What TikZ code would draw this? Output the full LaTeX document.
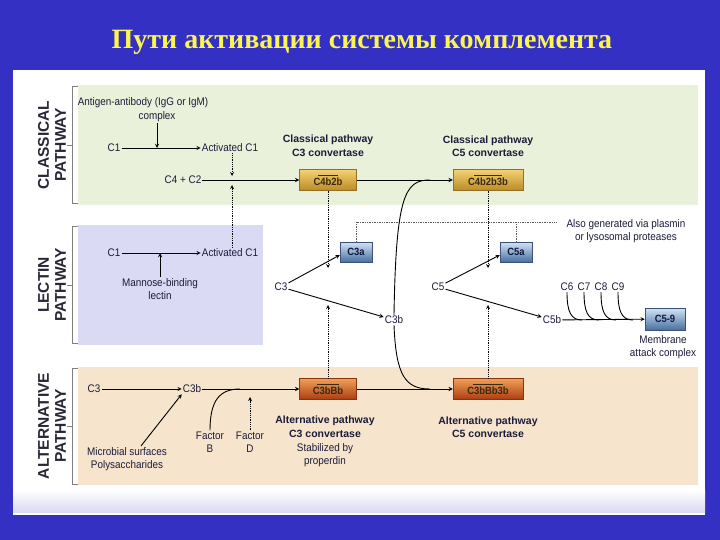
\documentclass[tikz,border=0pt]{standalone}
\usepackage{fontspec}
\setmainfont{Liberation Serif}
\newfontfamily\narrowsf[FakeStretch=0.9]{Liberation Sans}
\newfontfamily\plainsf{Liberation Sans}
\definecolor{slideblue}{RGB}{52,48,196}
\definecolor{titleyellow}{RGB}{250,245,80}
\definecolor{inkc}{RGB}{28,28,58}
\definecolor{classgreen}{RGB}{234,241,218}
\definecolor{lectinlav}{RGB}{218,218,244}
\definecolor{altpeach}{RGB}{247,228,204}
% activated complex: short bar over the name
\newcommand\convbar[1]{\setbox0\hbox{#1}\rlap{\hspace{0.15\wd0}\raisebox{\dimexpr\ht0+2pt\relax}{\rule{0.7\wd0}{0.7pt}}}\box0}
\tikzset{
  lbl/.style={font=\narrowsf\fontsize{11}{13.5}\selectfont, text=inkc, align=center, inner sep=1pt},
  blbl/.style={lbl, font=\plainsf\bfseries\fontsize{10.5}{13.5}\selectfont},
  goldbox/.style={draw={rgb,255:red,150;green,110;blue,40}, top color={rgb,255:red,243;green,210;blue,115},
    bottom color={rgb,255:red,188;green,138;blue,38}, minimum width=57pt, minimum height=21pt,
    font=\narrowsf\bfseries\fontsize{10.5}{12}\selectfont, text={rgb,255:red,60;green,40;blue,10}, inner sep=1pt},
  redbox/.style={goldbox, draw={rgb,255:red,140;green,50;blue,20}, top color={rgb,255:red,240;green,160;blue,85},
    bottom color={rgb,255:red,172;green,60;blue,20}},
  bluebox/.style={goldbox, draw={rgb,255:red,60;green,80;blue,120}, top color={rgb,255:red,210;green,228;blue,244},
    bottom color={rgb,255:red,72;green,112;blue,160}, minimum width=32pt, minimum height=20pt,
    text={rgb,255:red,15;green,25;blue,70}},
  arr/.style={->, line width=0.9pt, draw=black},
  dotarr/.style={->, densely dotted, line width=0.8pt, draw=black},
  dotline/.style={densely dotted, line width=0.7pt, draw={rgb,255:red,90;green,90;blue,90}},
  side/.style={font=\plainsf\bfseries\fontsize{15.5}{17}\selectfont, text={rgb,255:red,40;green,40;blue,55}, align=center, rotate=90},
  brk/.style={line width=0.7pt, draw=gray}
}
\begin{document}
\begin{tikzpicture}[x=1pt,y=-1pt,>=stealth]
% slide
\fill[slideblue] (0,0) rectangle (720,540);
\useasboundingbox (0,0) rectangle (720,540);
\node (title) at (362,42) {\fontsize{28}{32}\selectfont\bfseries\color{titleyellow}Пути активации системы комплемента};
\fill[white] (13,70) rectangle (705,515);
\shade[top color=white, bottom color=lectinlav] (13,490) rectangle (705,512);
% bands
\fill[classgreen] (78,85) rectangle (698,205);
\fill[lectinlav] (78,225) rectangle (263,345);
\fill[altpeach] (78,367) rectangle (698,485);
\draw[brk] (78,86) -- (72,86) -- (72,203) -- (78,203) (72,145) -- (67,145);
\draw[brk] (78,226) -- (72,226) -- (72,343) -- (78,343) (72,285) -- (67,285);
\draw[brk] (78,368) -- (72,368) -- (72,484) -- (78,484) (72,426) -- (67,426);
\node[side] (lclass) at (52,145) {CLASSICAL\\PATHWAY};
\node[side] (llect) at (52,285) {LECTIN\\PATHWAY};
\node[side] (lalt) at (52,426) {ALTERNATIVE\\PATHWAY};

% classical pathway
\node[lbl] (agab) at (143,103) {Antigen-antibody (IgG or IgM)};
\node[lbl] (cplx) at (157,117) {complex};
\node[lbl] (c1a) at (114,148) {C1};
\node[lbl] (ac1a) at (230,148) {Activated C1};
\node[lbl] (c4c2) at (183,180) {C4 + C2};
\node[goldbox] (c4b2b) at (328,180) {\convbar{C4b2b}};
\node[goldbox, minimum width=70pt] (c4b2b3b) at (488,180) {\convbar{C4b2b3b}};
\node[blbl] (cc3) at (328,146) {Classical pathway\\C3 convertase};
\node[blbl] (cc5) at (488,146) {Classical pathway\\C5 convertase};
\coordinate (m1) at (157,148);
\coordinate (m2) at (232,180);
\coordinate (j1) at (430,180);

\draw[arr] (c1a) -- (ac1a);
\draw[arr] (cplx) -- (m1);
\draw[arr] (c4c2) -- (c4b2b);
\draw[arr] (c4b2b) -- (c4b2b3b);
\draw[dotarr] (ac1a.south -| m2) -- ([yshift=4pt]m2);

% lectin pathway
\node[lbl] (c1b) at (114,253) {C1};
\node[lbl] (ac1b) at (230,253) {Activated C1};
\node[lbl] (mbl) at (160,289) {Mannose-binding\\lectin};
\coordinate (m3) at (160,253);
\draw[arr] (c1b) -- (ac1b);
\draw[arr] (mbl) -- (m3);
\draw[dotarr] (ac1b.north -| m2) -- ([yshift=-5pt]m2);

% cleavage of C3 and C5
\node[lbl] (c3) at (281,287) {C3};
\node[bluebox] (c3a) at (356,252) {C3a};
\node[lbl] (c3b) at (394,320) {C3b};
\node[lbl] (c5) at (438,287) {C5};
\node[bluebox] (c5a) at (516,252) {C5a};
\node[lbl] (c5b) at (552,320) {C5b};
\node[lbl] (also) at (626,231) {Also generated via plasmin\\or lysosomal proteases};
\coordinate (t1) at (556,222);
\draw[arr] (c3) -- ([yshift=-3pt]c3a.west);
\draw[arr] (c3) -- (c3b);
\draw[arr] (c5) -- ([yshift=-3pt]c5a.west);
\draw[arr] (c5) -- (c5b);
\draw[dotline] (c3a.north) |- (t1);
\draw[dotline] (c5a.north) -- (c5a.north |- t1);
\draw[dotarr] (c4b2b) -- (328,268);
\draw[dotarr] (c4b2b3b) -- (488,268);

% membrane attack complex
\node[lbl] (c6) at (567,287) {C6};
\node[lbl] (c7) at (584,287) {C7};
\node[lbl] (c8) at (601,287) {C8};
\node[lbl] (c9) at (618,287) {C9};
\node[bluebox, minimum width=40pt, minimum height=22pt] (c59) at (665,319) {C5-9};
\node[lbl] (mac) at (663,347) {Membrane\\attack complex};
\draw[arr] (c5b) -- (c59);
\foreach \n in {c6,c7,c8,c9} {
  \path (\n.south |- c5b) coordinate (e\n);
  \draw[line width=0.9pt] (\n.south) .. controls ([yshift=8pt]e\n) and ([xshift=4pt]e\n) .. ([xshift=15pt]e\n);
}

% alternative pathway
\node[lbl] (c3c) at (94,389) {C3};
\node[lbl] (c3bc) at (192,389) {C3b};
\node[lbl] (mic) at (127,459) {Microbial surfaces\\Polysaccharides};
\node[lbl] (fb) at (210,442) {Factor\\B};
\node[lbl] (fd) at (250,442) {Factor\\D};
\node[redbox] (c3bbb) at (328,389) {\convbar{C3bBb}};
\node[redbox, minimum width=70pt] (c3bbb3b) at (488,389) {\convbar{C3bBb3b}};
\node[blbl] (ac3) at (325,427) {Alternative pathway\\C3 convertase};
\node[lbl] (prop) at (325,455) {Stabilized by\\properdin};
\node[blbl] (ac5) at (488,427) {Alternative pathway\\C5 convertase};
\coordinate (j2) at (430,389);
\coordinate (j3) at (240,389);
\draw[arr] (c3c) -- (c3bc);
\draw[arr] ([xshift=14pt]mic.north) -- (c3bc.south west);
\draw[arr] (c3bc) -- (c3bbb);
\draw[arr] (c3bbb) -- (c3bbb3b);
\draw[line width=0.9pt] (fb.north) .. controls (210,400) and (220,389) .. (j3);
\draw[dotarr] (fd.north) -- (250,397);
\draw[dotarr] (c3bbb) -- (328,305);
\draw[dotarr] (c3bbb3b) -- (488,305);

% C3b feeds both C5 convertases
\draw[line width=0.9pt] (c3b.north) .. controls (396,195) and (405,180) .. (j1);
\draw[line width=0.9pt] (c3b.south) .. controls (396,375) and (405,389) .. (j2);
\end{tikzpicture}
\end{document}
